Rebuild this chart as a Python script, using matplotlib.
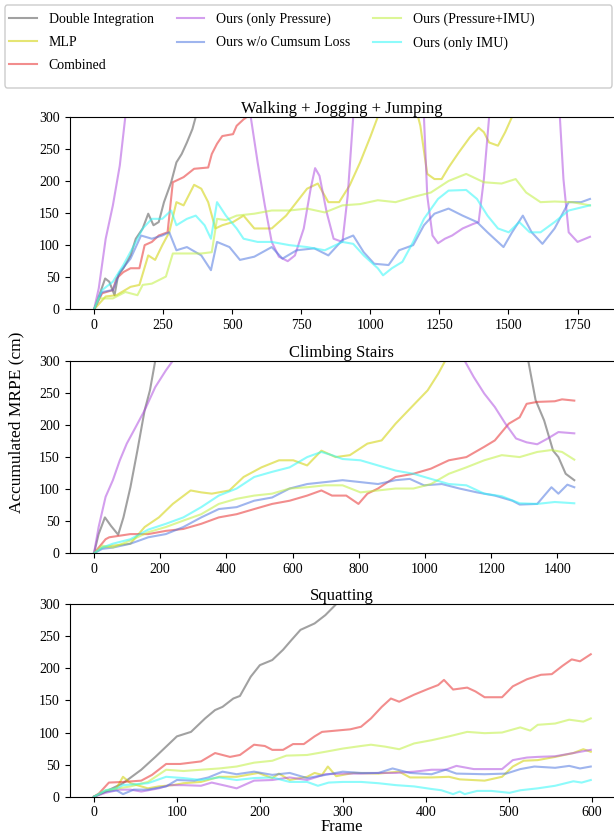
import numpy as np
import matplotlib
matplotlib.use('Agg')
from matplotlib import pyplot as plt
from matplotlib.patches import FancyBboxPatch

plt.rcParams['font.family'] = ['Liberation Serif', 'DejaVu Serif']

labels = ['Double Integration', 'MLP', 'Combined', 'Ours (only Pressure)',
          'Ours w/o Cumsum Loss', 'Ours (Pressure+IMU)', 'Ours (only IMU)']
colors = ['#555555', '#d0d000', '#e83030', '#b050e0', '#5078e0', '#c0f040', '#30f8f8']

# ---- Walking + Jogging + Jumping
walk_di_f = [0, 23, 40, 55, 74, 87, 106, 132, 151, 176, 196, 215, 234, 253, 279, 298, 317, 336, 356, 368, 400, 450]
walk_di = [0, 27, 48, 43, 22, 53, 64, 84, 110, 126, 149, 131, 136, 167, 198, 229, 242, 260, 281, 300, 340, 400]
walk_mlp_f = [0, 42, 81, 132, 164, 196, 221, 247, 272, 298, 324, 362, 388, 413, 439, 464, 503, 541, 580, 643, 695,
              771, 810, 848, 887, 925, 963, 1001, 1027, 1090, 1155, 1181, 1206, 1232, 1258, 1283, 1321, 1360, 1392,
              1411, 1430, 1462, 1488, 1513, 1600, 1800]
walk_mlp = [0, 20, 22, 35, 38, 84, 77, 100, 120, 167, 162, 194, 188, 167, 126, 131, 136, 146, 126, 126, 146,
            188, 196, 167, 167, 193, 229, 270, 300, 340, 330, 286, 211, 203, 203, 221, 245, 268, 283,
            276, 260, 255, 276, 300, 350, 420]
walk_comb_f = [0, 29, 68, 81, 106, 132, 164, 183, 209, 234, 266, 285, 324, 362, 413, 426, 445, 464, 503, 516, 541, 554, 650]
walk_comb = [0, 25, 30, 48, 58, 64, 64, 100, 105, 115, 120, 198, 206, 219, 221, 242, 258, 270, 273, 286, 296, 300, 360]
walk_pres_f = [0, 17, 42, 68, 93, 113, 250, 400, 567, 592, 618, 643, 669, 701, 727, 759, 784, 800, 816, 842, 867,
               899, 918, 938, 1000, 1100, 1194, 1206, 1225, 1245, 1270, 1296, 1334, 1372, 1392, 1411, 1430, 1500,
               1600, 1686, 1699, 1718, 1750, 1795]
walk_pres = [0, 33, 110, 162, 224, 300, 420, 430, 300, 229, 162, 105, 82, 75, 84, 126, 188, 220, 208, 151, 110,
             105, 177, 300, 400, 420, 300, 177, 115, 103, 110, 115, 126, 133, 136, 203, 300, 400,
             420, 300, 203, 120, 105, 113]
walk_nocum_f = [0, 29, 68, 93, 132, 170, 209, 247, 272, 298, 336, 388, 423, 445, 490, 528, 580, 643, 682, 733, 797,
                848, 899, 938, 976, 1014, 1066, 1104, 1155, 1194, 1232, 1283, 1334, 1386, 1424, 1482, 1513, 1552,
                1584, 1623, 1667, 1718, 1763, 1795]
walk_nocum = [0, 27, 30, 58, 79, 115, 110, 115, 120, 92, 97, 84, 61, 105, 97, 77, 82, 97, 79, 92, 95,
              84, 108, 115, 89, 71, 69, 92, 100, 131, 149, 157, 146, 136, 120, 97, 120, 146,
              120, 102, 126, 167, 167, 172]
walk_pimu_f = [0, 17, 68, 113, 157, 176, 209, 260, 285, 324, 388, 426, 445, 477, 516, 580, 643, 707, 771, 835, 899,
               963, 1027, 1091, 1155, 1219, 1283, 1347, 1411, 1475, 1526, 1564, 1616, 1667, 1731, 1795]
walk_pimu = [0, 17, 17, 27, 22, 38, 40, 51, 87, 87, 87, 89, 141, 139, 146, 149, 154, 154, 157, 151, 162,
             164, 170, 167, 175, 182, 200, 211, 198, 196, 203, 182, 167, 168, 167, 162]
walk_imu_f = [0, 29, 68, 106, 145, 176, 209, 247, 279, 298, 336, 368, 400, 423, 445, 477, 516, 541, 592, 643, 707,
              771, 835, 899, 938, 976, 1027, 1046, 1078, 1116, 1155, 1194, 1245, 1283, 1347, 1386, 1424, 1462,
              1501, 1539, 1577, 1616, 1667, 1718, 1795]
walk_imu = [0, 30, 43, 69, 100, 126, 141, 141, 154, 131, 141, 146, 131, 110, 167, 146, 126, 110, 105, 105, 100,
            97, 92, 105, 102, 84, 64, 53, 64, 74, 105, 141, 172, 185, 186, 172, 146, 126,
            120, 136, 120, 120, 136, 154, 162]

# ---- Climbing Stairs
stair_di_f = [0, 14, 33, 51, 73, 89, 110, 131, 153, 169, 185, 250, 800, 1250, 1312, 1334, 1360, 1387, 1403, 1425, 1451]
stair_di = [0, 30, 56, 43, 29, 56, 103, 160, 223, 254, 300, 380, 450, 380, 300, 239, 207, 160, 150, 124, 114]
stair_mlp_f = [0, 25, 57, 110, 153, 196, 238, 292, 324, 356, 409, 452, 506, 559, 602, 644, 687, 730, 773, 826, 869,
               911, 965, 1008, 1040, 1061, 1150, 1451]
stair_mlp = [0, 9, 12, 15, 41, 56, 77, 98, 95, 93, 98, 119, 134, 145, 145, 137, 160, 150, 153, 171, 176,
             202, 231, 254, 280, 300, 340, 400]
stair_comb_f = [0, 35, 46, 110, 164, 217, 270, 324, 377, 431, 484, 538, 591, 644, 687, 719, 762, 799, 826, 858, 911,
                965, 1018, 1072, 1125, 1179, 1211, 1253, 1286, 1307, 1339, 1392, 1414, 1451]
stair_comb = [0, 22, 25, 30, 30, 35, 38, 46, 56, 61, 69, 77, 82, 90, 98, 90, 90, 77, 93, 101, 119,
              124, 132, 145, 150, 166, 176, 202, 212, 233, 236, 237, 240, 238]
stair_pres_f = [0, 14, 35, 57, 78, 99, 121, 153, 185, 217, 238, 400, 800, 1120, 1147, 1179, 1211, 1243, 1275, 1307,
                1339, 1371, 1403, 1451]
stair_pres = [0, 41, 88, 114, 145, 171, 192, 223, 259, 285, 300, 380, 400, 300, 275, 249, 228, 202, 179, 173,
              170, 179, 189, 187]
stair_nocum_f = [0, 25, 57, 110, 164, 217, 270, 324, 377, 431, 484, 538, 591, 644, 698, 751, 805, 858, 911, 954, 997,
                 1051, 1104, 1157, 1211, 1264, 1286, 1339, 1382, 1403, 1430, 1451]
stair_nocum = [0, 7, 9, 15, 25, 30, 41, 56, 69, 72, 82, 87, 101, 108, 111, 114, 111, 108, 114, 116, 106,
               108, 101, 95, 90, 82, 76, 77, 103, 93, 107, 103]
stair_pimu_f = [0, 25, 57, 110, 164, 217, 270, 324, 377, 431, 484, 538, 591, 644, 698, 751, 805, 858, 911, 965, 1018,
                1072, 1125, 1179, 1232, 1286, 1339, 1382, 1414, 1451]
stair_pimu = [0, 12, 9, 20, 33, 41, 51, 61, 77, 85, 90, 93, 101, 103, 106, 106, 95, 98, 101, 101, 108,
              124, 134, 145, 153, 150, 158, 161, 158, 146]
stair_imu_f = [0, 25, 57, 110, 164, 217, 270, 324, 377, 431, 484, 538, 591, 644, 687, 719, 751, 805, 858, 911, 965,
               1018, 1072, 1125, 1179, 1232, 1286, 1339, 1392, 1451]
stair_imu = [0, 9, 15, 22, 37, 46, 56, 72, 90, 101, 119, 127, 134, 150, 158, 153, 147, 145, 137, 129, 124,
             116, 108, 106, 93, 89, 78, 77, 80, 78]

# ---- Squatting
squat_di_f = [0, 14, 35, 57, 74, 87, 100, 117, 134, 146, 155, 168, 176, 189, 200, 215, 228, 238, 249, 266, 279, 292, 330]
squat_di = [0, 8, 21, 42, 62, 78, 94, 101, 122, 135, 140, 153, 157, 187, 205, 213, 229, 244, 260, 270, 283, 300, 340]
squat_mlp_f = [0, 14, 27, 35, 44, 65, 78, 95, 108, 129, 151, 172, 198, 215, 223, 236, 257, 266, 275, 282, 292, 313,
               343, 368, 381, 407, 428, 441, 471, 492, 505, 518, 535, 556, 578, 590, 599]
squat_mlp = [0, 8, 13, 31, 21, 13, 16, 18, 21, 23, 31, 31, 37, 29, 36, 26, 31, 37, 34, 47, 32, 37,
             36, 39, 30, 30, 31, 27, 25, 31, 47, 56, 57, 62, 68, 74, 70]
squat_comb_f = [0, 6, 18, 35, 57, 70, 87, 104, 129, 146, 164, 176, 193, 206, 215, 228, 240, 253, 266, 275, 292, 309,
                322, 334, 347, 358, 368, 386, 403, 415, 422, 433, 450, 460, 471, 492, 505, 522, 539, 552, 565, 576,
                586, 599]
squat_comb = [0, 5, 22, 23, 25, 34, 51, 51, 55, 68, 62, 65, 81, 79, 73, 73, 82, 82, 94, 101, 103, 105,
              109, 122, 140, 153, 148, 159, 168, 174, 182, 167, 170, 164, 155, 155, 172, 183, 190, 191, 204, 214,
              211, 222]
squat_pres_f = [0, 14, 31, 44, 57, 78, 91, 108, 129, 142, 159, 172, 193, 215, 236, 257, 279, 300, 322, 343, 364, 386,
                407, 424, 437, 458, 492, 505, 522, 535, 556, 578, 599]
squat_pres = [0, 6, 11, 11, 8, 13, 18, 18, 17, 22, 17, 13, 25, 26, 30, 26, 35, 36, 36, 37, 37, 39,
              42, 42, 48, 43, 43, 57, 61, 62, 63, 68, 73]
squat_nocum_f = [0, 14, 27, 35, 48, 65, 87, 100, 121, 138, 155, 172, 193, 215, 236, 257, 279, 300, 322, 343, 360, 381,
                 407, 424, 437, 471, 497, 514, 531, 556, 573, 586, 599]
squat_nocum = [0, 8, 10, 4, 11, 11, 16, 26, 25, 30, 39, 35, 39, 34, 37, 29, 34, 39, 37, 37, 44, 37,
               35, 42, 36, 35, 36, 43, 47, 45, 48, 44, 47]
squat_pimu_f = [0, 14, 44, 65, 87, 108, 129, 151, 172, 193, 215, 232, 257, 279, 300, 322, 334, 351, 368, 386, 407,
                428, 450, 471, 492, 514, 526, 535, 556, 573, 590, 599]
squat_pimu = [0, 10, 16, 23, 42, 40, 42, 44, 47, 53, 56, 64, 65, 70, 75, 79, 81, 78, 74, 83, 88,
              94, 101, 99, 100, 108, 103, 112, 114, 120, 117, 122]
squat_imu_f = [0, 14, 27, 35, 65, 87, 108, 129, 151, 172, 193, 215, 236, 257, 270, 283, 300, 322, 343, 364, 386, 407,
               419, 433, 441, 447, 462, 479, 501, 514, 535, 556, 578, 588, 599]
squat_imu = [0, 10, 13, 18, 21, 31, 29, 26, 30, 26, 29, 30, 23, 23, 17, 22, 23, 23, 21, 18, 16, 12,
             10, 4, 8, 4, 9, 9, 6, 10, 13, 17, 24, 22, 26]

panels = [
    ('Walking + Jogging + Jumping',
     [(walk_di_f, walk_di), (walk_mlp_f, walk_mlp), (walk_comb_f, walk_comb), (walk_pres_f, walk_pres),
      (walk_nocum_f, walk_nocum), (walk_pimu_f, walk_pimu), (walk_imu_f, walk_imu)],
     (-89, 1882), [0, 250, 500, 750, 1000, 1250, 1500, 1750]),
    ('Climbing Stairs',
     [(stair_di_f, stair_di), (stair_mlp_f, stair_mlp), (stair_comb_f, stair_comb), (stair_pres_f, stair_pres),
      (stair_nocum_f, stair_nocum), (stair_pimu_f, stair_pimu), (stair_imu_f, stair_imu)],
     (-74, 1571), [0, 200, 400, 600, 800, 1000, 1200, 1400]),
    ('Squatting',
     [(squat_di_f, squat_di), (squat_mlp_f, squat_mlp), (squat_comb_f, squat_comb), (squat_pres_f, squat_pres),
      (squat_nocum_f, squat_nocum), (squat_pimu_f, squat_pimu), (squat_imu_f, squat_imu)],
     (-29.5, 627), [0, 100, 200, 300, 400, 500, 600]),
]

fig = plt.figure(figsize=(6.14, 8.38), dpi=100)
bottoms = [0.6309, 0.3397, 0.0493]
axes = []
for (title, series, xl, xt), b in zip(panels, bottoms):
    ax = fig.add_axes([0.1132, b, 0.8868, 0.2297])
    for (f, v), c, lab in zip(series, colors, labels):
        ax.plot(f, v, color=c, alpha=0.55, lw=1.5, label=lab)
    ax.set_xlim(xl)
    ax.set_ylim(0, 300)
    ax.set_xticks(xt)
    ax.set_yticks([0, 50, 100, 150, 200, 250, 300])
    ax.spines['right'].set_visible(False)
    ax.tick_params(labelsize=10)
    ax.set_title(title, fontsize=12, pad=2)
    axes.append(ax)

fig.text(0.026, 0.496, 'Accumulated MRPE (cm)', rotation=90, ha='center', va='center', fontsize=12.5)
axes[2].set_xlabel('Frame', fontsize=12, labelpad=0)

# legend box drawn by hand (frame is wider than the entries)
box = FancyBboxPatch((5 / 614, 1 - 88 / 838), 607 / 614, 83 / 838, transform=fig.transFigure,
                     boxstyle='round,pad=0,rounding_size=0.004', facecolor='white',
                     edgecolor='#cccccc', lw=1)
fig.patches.append(box)

handles, labs = axes[0].get_legend_handles_labels()
fig.legend(handles, labs, loc='upper left', ncol=3, fontsize=10, frameon=False,
           bbox_to_anchor=(9 / 614, 1 - 13 / 838), borderaxespad=0, borderpad=0,
           handlelength=2.0, handletextpad=0.85, columnspacing=1.65, labelspacing=0.72)

fig.savefig('out.png', dpi=100)
